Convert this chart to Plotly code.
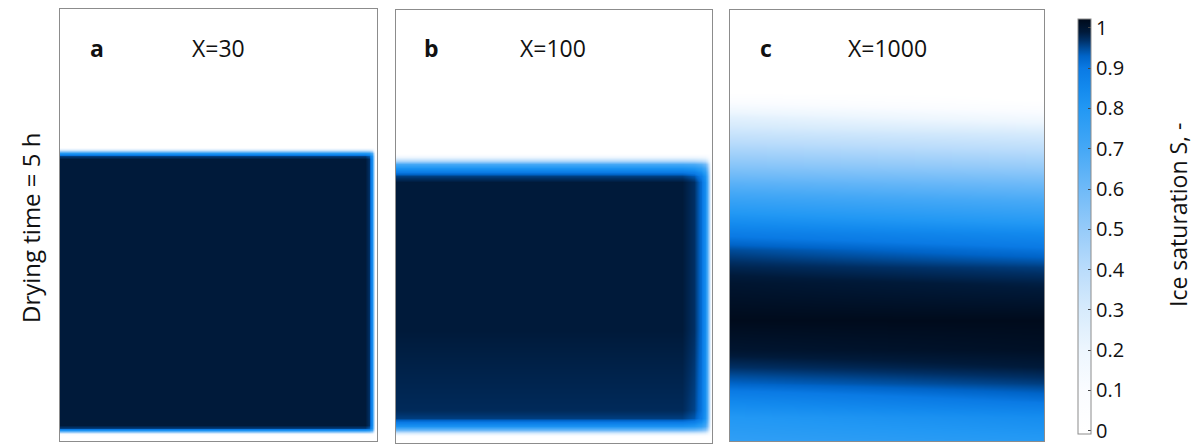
import numpy as np
import plotly.graph_objects as go

W, H = 1194, 444

# ---------------- data ----------------
# depth positions are % of sample height (0 = top), width positions % of sample width
panel_letters = ["a", "b", "c"]
panel_titles = ["X=30", "X=100", "X=1000"]

# panel a : vertical saturation profile and lateral (right edge) factor
a_depth = [0, 32.0, 32.7, 33.4, 34.1, 34.8, 96.3, 97.0, 97.5, 97.9, 98.4, 98.8, 100]
a_sat = [0, 0, 0.35, 0.80, 0.96, 0.99, 0.99, 0.96, 0.82, 0.50, 0.10, 0, 0]
a_width = [0, 96.2, 97.5, 98.4, 99.05, 99.5, 100]
a_edge = [1, 1, 0.98, 0.85, 0.40, 0.05, 0]

# panel b
b_depth = [0, 33.0, 34.0, 34.9, 35.6, 36.5, 37.4, 38.3, 39.7, 73.9, 92.4, 94.2,
           95.2, 96.1, 97.0, 97.7, 98.4, 98.8, 100]
b_sat = [0, 0, 0.20, 0.45, 0.70, 0.82, 0.90, 0.96, 0.99, 0.99, 0.975, 0.96,
         0.90, 0.82, 0.60, 0.30, 0.05, 0, 0]
b_width = [0, 90.5, 94.3, 96.5, 97.7, 98.5, 99.1, 99.7, 100]
b_edge = [1, 1, 0.98, 0.93, 0.85, 0.70, 0.45, 0.10, 0]

# panel c : profiles at the left and right side of the sample
c_depth = [0, 19.0, 20.9, 24.8, 28.5, 32.5, 36.4, 40.1, 44.1, 48.0, 51.7, 55.7,
           59.6, 63.3, 71.9, 78.9, 82.8, 86.5, 90.5, 94.4, 100]
c_left = [0, 0, 0.08, 0.25, 0.35, 0.45, 0.55, 0.65, 0.74, 0.82, 0.89, 0.95,
          0.98, 1.00, 1.02, 1.00, 0.97, 0.93, 0.86, 0.80, 0.76]
c_right = [0, 0, 0, 0.15, 0.30, 0.40, 0.50, 0.60, 0.69, 0.77, 0.85, 0.91,
           0.96, 0.985, 1.02, 1.01, 0.99, 0.96, 0.91, 0.84, 0.79]
c_width = [0, 100]

cbar_ticks = [0, 0.1, 0.2, 0.3, 0.4, 0.5, 0.6, 0.7, 0.8, 0.9, 1]
cbar_labels = ["0", "0.1", "0.2", "0.3", "0.4", "0.5", "0.6", "0.7", "0.8", "0.9", "1"]

# colour map (saturation value -> colour)
cmap_vals = [-0.008, 0.0, 0.1, 0.2, 0.3, 0.4, 0.5, 0.6, 0.7, 0.8, 0.85, 0.9,
             0.93, 0.95, 0.97, 0.99, 1.022]
cmap_cols = ["#ffffff", "#ffffff", "#fafcff", "#edf6fe", "#d7ebfc", "#badcfb",
             "#96cbf9", "#6fbaf8", "#45a8f6", "#2298f4", "#138aee", "#0a7ae4",
             "#0064c8", "#004b98", "#002f64", "#001a3a", "#000a1a"]

# ---------------- layout geometry (pixels) ----------------
panels_px = [  # left, right, top, bottom
    (60, 377, 9, 441),
    (396, 712, 10, 443),
    (730, 1044, 10, 441),
]

cmin, cmax = cmap_vals[0], cmap_vals[-1]
colorscale = [[(v - cmin) / (cmax - cmin), c] for v, c in zip(cmap_vals, cmap_cols)]

z_a = np.outer(a_sat, a_edge)
z_b = np.outer(b_sat, b_edge)
z_c = np.column_stack([c_left, c_right])

fig = go.Figure()
grids = [(a_width, a_depth, z_a), (b_width, b_depth, z_b), (c_width, c_depth, z_c)]
for i, (xs, ys, z) in enumerate(grids):
    n = "" if i == 0 else str(i + 1)
    fig.add_trace(go.Heatmap(
        x=xs, y=ys, z=z, zsmooth="best", coloraxis="coloraxis",
        xaxis="x" + n, yaxis="y" + n, hoverinfo="skip"))
    l, r, t, b = panels_px[i]
    ax = dict(domain=[l / W, r / W], range=[0, 100], showgrid=False, zeroline=False,
              showticklabels=False, ticks="", showline=True, mirror=True,
              linecolor="#8c8c8c", linewidth=1, anchor="y" + n, fixedrange=True)
    ay = dict(domain=[1 - b / H, 1 - t / H], range=[100, 0], showgrid=False,
              zeroline=False, showticklabels=False, ticks="", showline=True,
              mirror=True, linecolor="#8c8c8c", linewidth=1, anchor="x" + n,
              fixedrange=True)
    fig.layout["xaxis" + n] = ax
    fig.layout["yaxis" + n] = ay

FONT = "Open Sans"
annotations = []
letter_x = [97, 431, 766]
title_x = [218, 553, 887]
for i in range(3):
    annotations.append(dict(x=letter_x[i] / W, y=1 - 48 / H, xref="paper", yref="paper",
                            xanchor="center", yanchor="middle",
                            text="<b>%s</b>" % panel_letters[i], showarrow=False,
                            font=dict(family=FONT, size=23, color="#111")))
    annotations.append(dict(x=title_x[i] / W, y=1 - 48 / H, xref="paper", yref="paper",
                            xanchor="center", yanchor="middle",
                            text=panel_titles[i], showarrow=False,
                            font=dict(family=FONT, size=23, color="#111")))
annotations.append(dict(x=30 / W, y=1 - 228 / H, xref="paper", yref="paper",
                        xanchor="center", yanchor="middle",
                        text="Drying time = 5 h", textangle=-90, showarrow=False,
                        font=dict(family=FONT, size=24, color="#111")))
annotations.append(dict(x=1178 / W, y=1 - 215 / H, xref="paper", yref="paper",
                        xanchor="center", yanchor="middle",
                        text="Ice saturation S, -", textangle=-90, showarrow=False,
                        font=dict(family=FONT, size=23, color="#111")))

fig.update_layout(
    width=W, height=H, margin=dict(l=0, r=0, t=0, b=0),
    paper_bgcolor="white", plot_bgcolor="white", showlegend=False,
    annotations=annotations,
    coloraxis=dict(
        colorscale=colorscale, cmin=cmin, cmax=cmax,
        colorbar=dict(
            thickness=13, thicknessmode="pixels", len=415, lenmode="pixels",
            x=1078 / W, xanchor="left", xpad=0, y=1 - 19 / H, yanchor="top", ypad=0,
            outlinewidth=1, outlinecolor="#8c8c8c",
            tickvals=cbar_ticks, ticktext=cbar_labels,
            ticks="inside", ticklen=3, tickcolor="#444", tickwidth=1,
            ticklabeloverflow="allow",
            tickfont=dict(family=FONT, size=20, color="#111"))),
)

fig.write_html("out.html", config={"displayModeBar": False},
               post_script="document.body.style.margin='0';")
